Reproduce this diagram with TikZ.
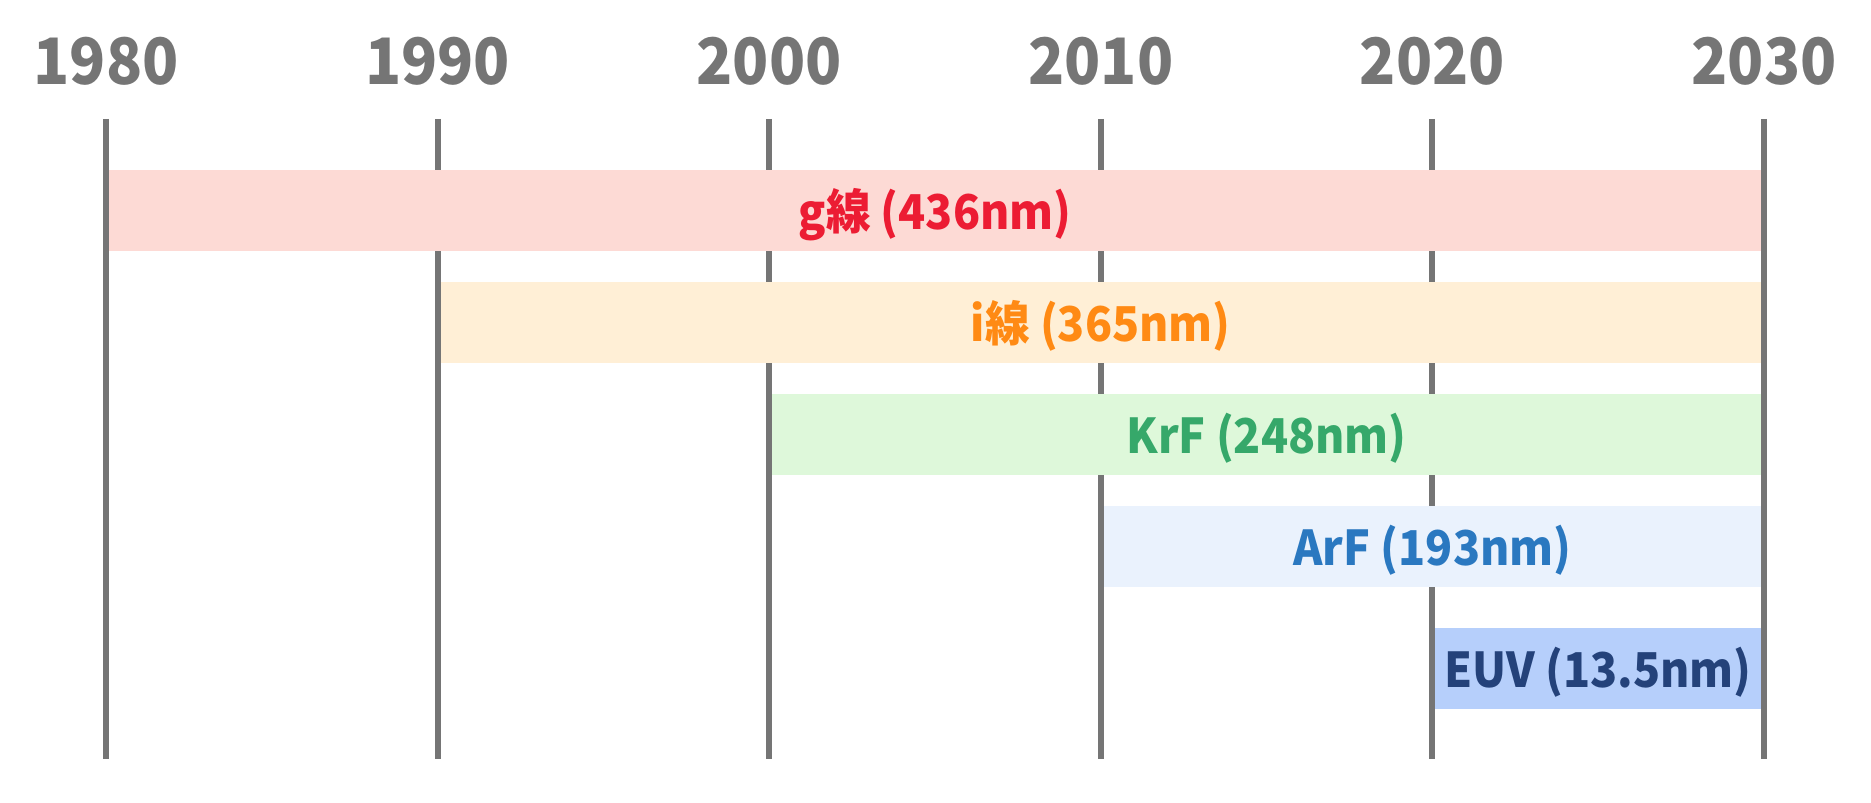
\documentclass[tikz,border=0pt]{standalone}
\usepackage{fontspec}
\usepackage{graphicx}
\setmainfont{Noto Sans CJK JP}
\definecolor{axisgray}{HTML}{757575}
\definecolor{gbar}{HTML}{FDDAD5}
\definecolor{gtext}{HTML}{EC1C33}
\definecolor{ibar}{HTML}{FFEFD6}
\definecolor{itext}{HTML}{FF8A14}
\definecolor{kbar}{HTML}{DEF8DA}
\definecolor{ktext}{HTML}{36A86A}
\definecolor{abar}{HTML}{EAF2FD}
\definecolor{atext}{HTML}{2A78C0}
\definecolor{ebar}{HTML}{B6CFFB}
\definecolor{etext}{HTML}{24427A}
\newcommand{\narrowtxt}[1]{\scalebox{0.93}[1]{#1}}
\tikzset{
  yearlabel/.style={anchor=base, text=axisgray, font=\fontsize{32}{36}\selectfont\bfseries, inner sep=0pt},
  gridline/.style={draw=axisgray, line width=3pt},
  barlabel/.style={anchor=base, font=\fontsize{24}{28}\selectfont\bfseries, inner sep=0pt},
}
\begin{document}
\begin{tikzpicture}[x=0.5pt,y=-0.5pt]
\useasboundingbox (0,0) rectangle (1871,802);
% grid lines
\foreach \i/\yr in {0/1980,1/1990,2/2000,3/2010,4/2020,5/2030}{
  \coordinate (t\yr) at ({106+331.6*\i},119);
  \coordinate (b\yr) at ({106+331.6*\i},759);
  \node[yearlabel] (y\yr) at ({106+331.6*\i},85) {\narrowtxt{\yr}};
  \draw[gridline] (t\yr) -- (b\yr);
}
% bars
\fill[gbar] (109,170) rectangle (1761,251);
\fill[ibar] ({106+331.6*1+3},282) rectangle (1761,363);
\fill[kbar] ({106+331.6*2+3},394) rectangle (1761,475);
\fill[abar] ({106+331.6*3+3},506) rectangle (1761,587);
\fill[ebar] ({106+331.6*4+3},628) rectangle (1761,709);
% labels
\node[barlabel, text=gtext] (g) at ({(109+1761)/2},229) {\narrowtxt{g線 (436nm)}};
\node[barlabel, text=itext] (i) at ({(106+331.6+3+1761)/2},341) {\narrowtxt{i線 (365nm)}};
\node[barlabel, text=ktext] (k) at ({(106+663.2+3+1761)/2},453) {\narrowtxt{KrF (248nm)}};
\node[barlabel, text=atext] (a) at ({(106+994.8+3+1761)/2},565) {\narrowtxt{ArF (193nm)}};
\node[barlabel, text=etext] (e) at ({(106+1326.4+3+1761)/2},687) {\narrowtxt{EUV (13.5nm)}};
\end{tikzpicture}
\end{document}
